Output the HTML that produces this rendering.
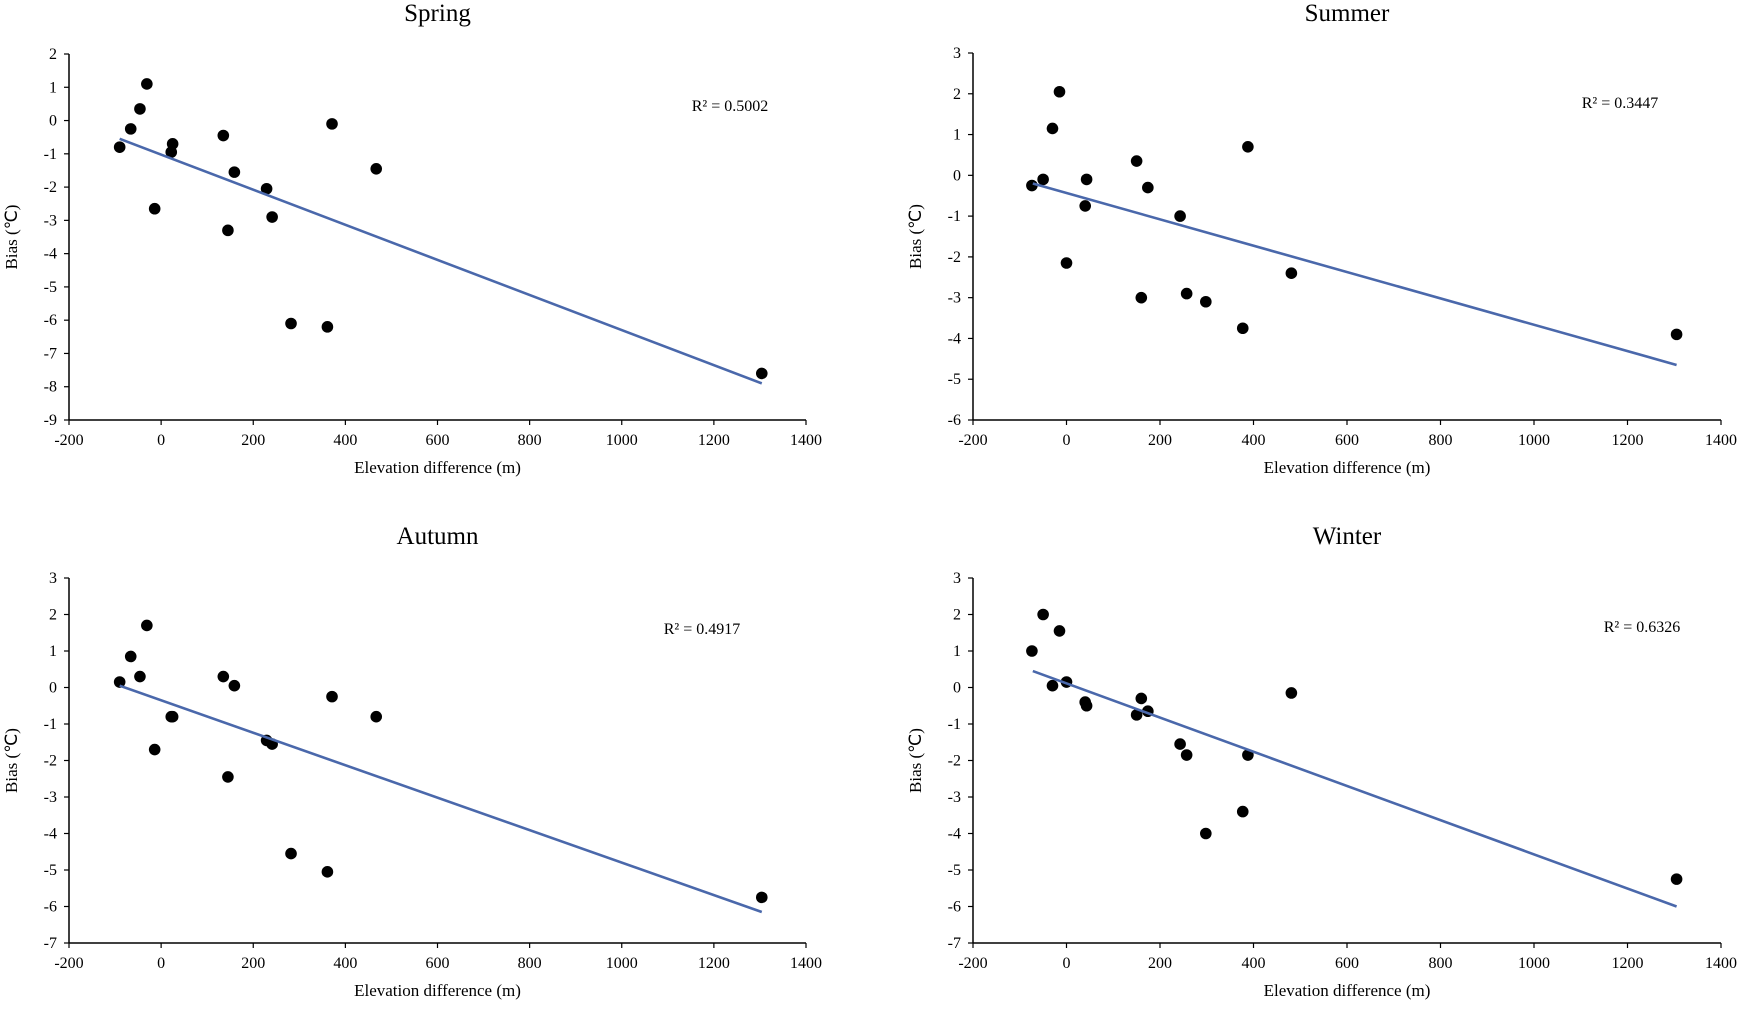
<!DOCTYPE html>
<html><head><meta charset="utf-8"><style>
html,body{margin:0;padding:0;background:#fff;width:1743px;height:1015px;overflow:hidden}
svg text{font-family:"Liberation Serif",serif;fill:#000}
</style></head><body>
<svg id="chart" width="1743" height="1015" viewBox="0 0 1743 1015"></svg>
<script>
const elevationLeft = [-90,-66,-46,-31,-14,22,25,135,145,159,229,241,282,361,371,467,1304];
const elevationRight = [-74,-50,-30,-15,0,40,43,150,160,174,243,257,298,377,388,481,1305];
const springBias = [-0.8,-0.25,0.35,1.1,-2.65,-0.95,-0.7,-0.45,-3.3,-1.55,-2.05,-2.9,-6.1,-6.2,-0.1,-1.45,-7.6];
const summerBias = [-0.25,-0.1,1.15,2.05,-2.15,-0.75,-0.1,0.35,-3.0,-0.3,-1.0,-2.9,-3.1,-3.75,0.7,-2.4,-3.9];
const autumnBias = [0.15,0.85,0.3,1.7,-1.7,-0.8,-0.8,0.3,-2.45,0.05,-1.45,-1.55,-4.55,-5.05,-0.25,-0.8,-5.75];
const winterBias = [1.0,2.0,0.05,1.55,0.15,-0.4,-0.5,-0.75,-0.3,-0.65,-1.55,-1.85,-4.0,-3.4,-1.85,-0.15,-5.25];
const springTrend = [-0.55,-7.9];
const summerTrend = [-0.2,-4.65];
const autumnTrend = [0.05,-6.15];
const winterTrend = [0.45,-6.0];
const trendXLeft = [-90,1304];
const trendXRight = [-72,1305];
const xTicks = [-200,0,200,400,600,800,1000,1200,1400];
const springYTicks = [2,1,0,-1,-2,-3,-4,-5,-6,-7,-8,-9];
const summerYTicks = [3,2,1,0,-1,-2,-3,-4,-5,-6];
const otherYTicks = [3,2,1,0,-1,-2,-3,-4,-5,-6,-7];
const titles = ["Spring","Summer","Autumn","Winter"];
const r2Labels = ["R² = 0.5002","R² = 0.3447","R² = 0.4917","R² = 0.6326"];

const NS="http://www.w3.org/2000/svg";
const svg=document.getElementById('chart');
function mk(tag,attrs,parent){const e=document.createElementNS(NS,tag);for(const k in attrs)e.setAttribute(k,attrs[k]);parent.appendChild(e);return e;}

const panels=[
 {name:'spring',x0:69,x1:806,yT:54,yB:420,ticks:springYTicks,elev:elevationLeft,tx:trendXLeft,bias:springBias,trend:springTrend,title:titles[0],r2:r2Labels[0],r2x:730,r2y:111,ty:21},
 {name:'summer',x0:973,x1:1721,yT:53,yB:420,ticks:summerYTicks,elev:elevationRight,tx:trendXRight,bias:summerBias,trend:summerTrend,title:titles[1],r2:r2Labels[1],r2x:1620,r2y:108,ty:21},
 {name:'autumn',x0:69,x1:806,yT:578,yB:943,ticks:otherYTicks,elev:elevationLeft,tx:trendXLeft,bias:autumnBias,trend:autumnTrend,title:titles[2],r2:r2Labels[2],r2x:702,r2y:634,ty:544},
 {name:'winter',x0:973,x1:1721,yT:578,yB:943,ticks:otherYTicks,elev:elevationRight,tx:trendXRight,bias:winterBias,trend:winterTrend,title:titles[3],r2:r2Labels[3],r2x:1642,r2y:632,ty:544}
];

panels.forEach(p=>{
 const g=mk('g',{},svg);
 
 
 const ymax=p.ticks[0], ymin=p.ticks[p.ticks.length-1];
 const sx=v=>p.x0+(v-(-200))/(1600)*(p.x1-p.x0);
 const sy=v=>p.yT+(ymax-v)/(ymax-ymin)*(p.yB-p.yT);
 const cx=(p.x0+p.x1)/2;
 const t=mk('text',{x:cx,y:p.ty,'text-anchor':'middle','font-size':'25'},g);t.textContent=p.title;
 
 
 const ya=mk('line',{x1:p.x0,y1:p.yT,x2:p.x0,y2:p.yB,stroke:'#000','stroke-width':1.5},g);
 
 
 const xa=mk('line',{x1:p.x0,y1:p.yB,x2:p.x1,y2:p.yB,stroke:'#000','stroke-width':1.5},g);
 
 
 p.ticks.forEach(v=>{
  mk('line',{x1:p.x0-5,y1:sy(v),x2:p.x0,y2:sy(v),stroke:'#000','stroke-width':1.2},g);
  const l=mk('text',{x:p.x0-12,y:sy(v)+5,'text-anchor':'end','font-size':'16'},g);l.textContent=v;
  
  
 });
 xTicks.forEach(v=>{
  mk('line',{x1:sx(v),y1:p.yB,x2:sx(v),y2:p.yB+5,stroke:'#000','stroke-width':1.2},g);
  const l=mk('text',{x:sx(v),y:p.yB+25,'text-anchor':'middle','font-size':'16'},g);l.textContent=v;
  
  
 });
 const xt=mk('text',{x:cx,y:p.yB+53,'text-anchor':'middle','font-size':'17'},g);xt.textContent='Elevation difference (m)';
 
 
 const ymid=(p.yT+p.yB)/2, ylx=p.x0-52;
 const yt=mk('text',{x:ylx,y:ymid,'text-anchor':'middle','font-size':'17',transform:`rotate(-90 ${ylx} ${ymid})`},g);yt.textContent='Bias (℃)';
 
 
 const r=mk('text',{x:p.r2x,y:p.r2y,'text-anchor':'middle','font-size':'16'},g);r.textContent=p.r2;
 
 
 p.elev.forEach((e,i)=>{
  const c=mk('circle',{cx:sx(e),cy:sy(p.bias[i]),r:5.8,fill:'#000'},g);
  
  
 });
 const tl=mk('line',{x1:sx(p.tx[0]),y1:sy(p.trend[0]),x2:sx(p.tx[1]),y2:sy(p.trend[1]),stroke:'#4a68ab','stroke-width':2.6},g);
 
 
});
</script>
</body></html>
